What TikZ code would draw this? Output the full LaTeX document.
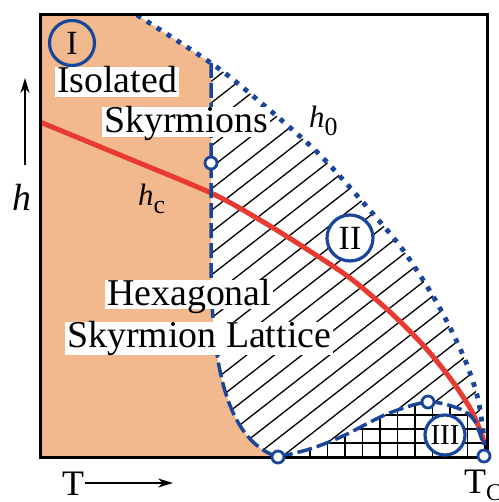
\documentclass[tikz,border=0pt]{standalone}
\usepackage{fontspec}
\setmainfont{LiberationSerif}[Extension=.ttf, UprightFont=*-Regular, BoldFont=*-Bold, ItalicFont=*-Italic, BoldItalicFont=*-BoldItalic]
\usetikzlibrary{arrows.meta}
\definecolor{orfill}{RGB}{243,185,142}
\definecolor{dblue}{RGB}{25,70,155}
\definecolor{hred}{RGB}{232,58,48}
\begin{document}
\begin{tikzpicture}[x=1bp,y=-1bp,
  lbl/.style={fill=white, inner xsep=2bp, inner ysep=1.5bp, anchor=base west,
    font=\rmfamily\fontsize{38}{40}\selectfont, text height=24bp, text depth=2.5bp},
  roman/.style={circle, draw=dblue, line width=3.2bp, inner sep=0pt, text=black},
  opendot/.style={circle, draw=dblue, fill=white, line width=2.8bp, inner sep=0pt, minimum size=12bp},
  hatchline/.style={black, line width=1.3bp},
  gridline/.style={black, line width=1.5bp},
  bdash/.style={dblue, line width=3.5bp, dash pattern=on 15bp off 5bp},
  bdot/.style={dblue, line width=4.8bp, dash pattern=on 4.8bp off 7bp},
  axarrow/.style={line width=2bp, -{Stealth[length=15bp,width=9bp]}}]
\useasboundingbox (0,0) rectangle (499,502);
\fill[white] (0,0) rectangle (499,502);
% hatch of region II
\begin{scope}
  \clip (211,0) rectangle (487,457);
  \clip plot[smooth] coordinates {(137,15) (211,63) (253,96) (317,152) (367,207) (403,250) (437,303) (463,355) (477,395) (483,430) (486,457)} -- (490,470) -- (0,470) -- cycle;
  \foreach \k in {-22,...,9} {
    \draw[hatchline] ({226.5+27.6*\k},500) -- ++(700,-546);
  }
\end{scope}
% orange region I
\fill[orfill] (40,15) -- (137,15) -- (211,63) -- (211,260) .. controls (211,360) and (225,440) .. (278,457) -- (40,457) -- cycle;
% region III
\begin{scope}
  \clip plot[smooth] coordinates {(278,457) (310,449) (343,436) (387,414) (428,402) (460,409) (474,420) (482,440)} -- (487,440) -- (487,457) -- cycle;
  \fill[white] (270,380) rectangle (490,460);
  \foreach \x in {310,327.5,...,490} { \draw[gridline] (\x,460) -- (\x,380); }
  \foreach \y in {443,429,415,401} { \draw[gridline] (270,\y) -- (490,\y); }
\end{scope}
% h_c line
\draw[hred, line width=5bp] plot[smooth] coordinates {(40,122) (120,155) (211,193) (260,220) (305,248) (350,278) (390,312) (423,345) (450,378) (470,408) (480,430) (484,442)};
% boundaries
\draw[bdot] plot[smooth] coordinates {(137,15) (211,63) (253,96) (317,152) (367,207) (403,250) (437,303) (463,355) (477,395) (483,430) (486,457)};
\draw[bdash] (211,63) -- (211,260) .. controls (211,360) and (225,440) .. (278,457);
\draw[bdash] plot[smooth] coordinates {(278,457) (310,449) (343,436) (387,414) (428,402) (460,409) (474,420) (482,440)};
% frame
\draw[black, line width=3bp] (40,15) rectangle (487,457);
% open dots
\node[opendot] (d1) at (211,163) {};
\node[opendot] (d2) at (278,457) {};
\node[opendot] (d3) at (428,402) {};
\node[opendot] (d4) at (484,456) {};
% region labels
\node[roman, minimum size=45bp, font=\rmfamily\fontsize{34}{34}\selectfont] (r1) at (72,43) {I};
\node[roman, fill=white, minimum size=46bp, font=\rmfamily\fontsize{34}{34}\selectfont] (r2) at (350,238) {II};
\node[roman, fill=white, minimum size=40bp, font=\rmfamily\fontsize{29}{29}\selectfont] (r3) at (445,435) {III};
% texts
\node[lbl] (iso) at (55,93) {Isolated};
\node[lbl] (sky) at (102,133) {Skyrmions};
\node[lbl] (hex) at (105,305) {Hexagonal};
\node[lbl, text depth=6.5bp] (lat) at (65,347) {Skyrmion Lattice};
\node[anchor=base west, inner sep=0pt, font=\rmfamily\fontsize{31}{31}\selectfont] (hc) at (138,205) {\itshape h\/\raisebox{-8bp}{\fontsize{26}{26}\selectfont\upshape c}};
\node[anchor=base west, inner sep=0pt, font=\rmfamily\fontsize{31}{31}\selectfont] (h0) at (309,128) {\itshape h\/\raisebox{-8bp}{\fontsize{26}{26}\selectfont\upshape 0}};
% axes labels
\node[anchor=base, inner sep=0pt, font=\rmfamily\fontsize{38}{38}\selectfont] (hlab) at (22,210) {\itshape h};
\coordinate (ha) at (25,165);
\coordinate (hb) at (25,78);
\draw[axarrow] (ha) -- (hb);
\node[anchor=base west, inner sep=0pt, font=\rmfamily\fontsize{36}{36}\selectfont] (tlab) at (62,495) {T};
\coordinate (ta) at (85,483);
\coordinate (tb) at (173,483);
\draw[axarrow] (ta) -- (tb);
\node[anchor=base west, inner sep=0pt, font=\rmfamily\fontsize{36}{36}\selectfont] (tc) at (464,493) {T\raisebox{-7bp}{\fontsize{24}{24}\selectfont C}};
\end{tikzpicture}
\end{document}
